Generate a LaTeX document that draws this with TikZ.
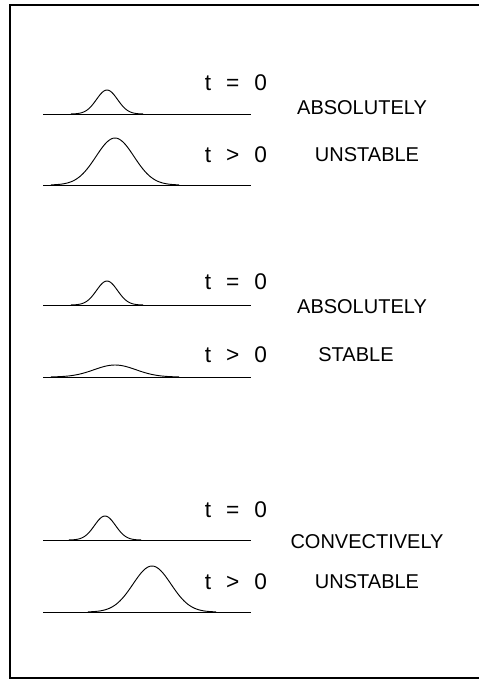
\documentclass[tikz,border=0pt]{standalone}
\usepackage{fontspec}
\setmainfont{Liberation Sans}
\usetikzlibrary{positioning}

\begin{document}
\begin{tikzpicture}[x=0.75pt, y=-0.75pt,
  frame/.style={line width=1.4pt},
  axisline/.style={line width=0.7pt},
  pulse/.style={line width=0.7pt, smooth, samples=61},
  timelbl/.style={font=\fontsize{17}{19}\selectfont, inner sep=0pt},
  regime/.style={font=\fontsize{15}{17}\selectfont, inner sep=0pt}]
\useasboundingbox (0,0) rectangle (479,683);
\draw[frame] (479,5) -- (10,5) -- (10,678) -- (479,678);

% absolutely unstable
\coordinate (a1) at (43,114); \coordinate (b1) at (251,114);
\coordinate (a2) at (43,185); \coordinate (b2) at (251,185);
\draw[axisline] (a1) -- (b1);
\draw[axisline] (a2) -- (b2);
\draw[pulse] plot[domain=-36:36] ({107+\x},{114-24*exp(-(\x/10.5)^2/2)});
\draw[pulse] plot[domain=-64:64] ({115+\x},{185-47*exp(-(\x/19)^2/2)});
\node[timelbl] (t1) at (236,83) {t\hspace{.66em}=\hspace{.66em}0};
\node[timelbl] (t2) at (236,155) {t\hspace{.66em}>\hspace{.66em}0};
\node[regime] (r1) at (362,108) {ABSOLUTELY};
\node[regime] (r2) at (367,155) {UNSTABLE};

% absolutely stable
\coordinate (a3) at (43,305); \coordinate (b3) at (251,305);
\coordinate (a4) at (43,377); \coordinate (b4) at (251,377);
\draw[axisline] (a3) -- (b3);
\draw[axisline] (a4) -- (b4);
\draw[pulse] plot[domain=-36:36] ({107+\x},{305-24*exp(-(\x/10.5)^2/2)});
\draw[pulse] plot[domain=-64:64] ({115+\x},{377-12*exp(-(\x/21)^2/2)});
\node[timelbl] (t3) at (236,282) {t\hspace{.66em}=\hspace{.66em}0};
\node[timelbl] (t4) at (236,355) {t\hspace{.66em}>\hspace{.66em}0};
\node[regime] (r3) at (362,307) {ABSOLUTELY};
\node[regime] (r4) at (356,355) {STABLE};

% convectively unstable
\coordinate (a5) at (43,540); \coordinate (b5) at (251,540);
\coordinate (a6) at (43,612); \coordinate (b6) at (251,612);
\draw[axisline] (a5) -- (b5);
\draw[axisline] (a6) -- (b6);
\draw[pulse] plot[domain=-36:36] ({105+\x},{540-24*exp(-(\x/10.5)^2/2)});
\draw[pulse] plot[domain=-64:64] ({152+\x},{612-46*exp(-(\x/19)^2/2)});
\node[timelbl] (t5) at (236,510) {t\hspace{.66em}=\hspace{.66em}0};
\node[timelbl] (t6) at (236,582) {t\hspace{.66em}>\hspace{.66em}0};
\node[regime] (r5) at (367,542) {CONVECTIVELY};
\node[regime] (r6) at (367,582) {UNSTABLE};
\end{tikzpicture}
\end{document}
